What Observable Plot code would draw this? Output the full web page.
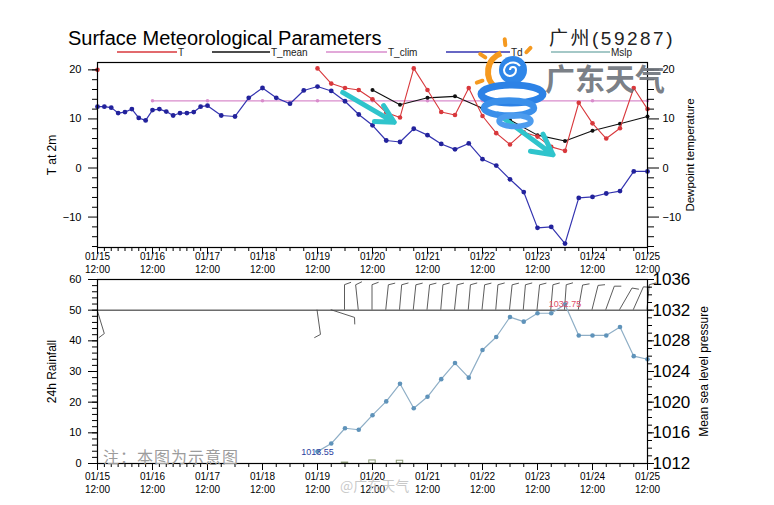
<!DOCTYPE html>
<html><head><meta charset="utf-8">
<script src="https://cdn.jsdelivr.net/npm/d3@7"></script>
<script src="https://cdn.jsdelivr.net/npm/@observablehq/plot@0.6"></script>
<style>
body{margin:0;background:#fff;}
#wrap{position:relative;width:774px;height:505px;overflow:hidden;background:#fff;}
#wrap svg{position:absolute;left:0;}
</style></head><body><div id="wrap"></div>
<script>
// ---------- data (hours after 01/15 12:00) ----------
const tdHours = [0,3,6,9,12,15,18,21,24,27,30,33,36,39,42,45,48,54,60,66,72,78,84,90,96,102,108,114,120,126,132,138,144,150,156,162,168,174,180,186,192,198,204,210,216,222,228,234,240];
const tdValues = [12.5,12.5,12.3,11.2,11.4,12.0,10.2,9.7,11.8,12.0,11.5,10.7,11.2,11.2,11.4,12.5,12.7,10.7,10.5,14.3,16.3,14.3,13.1,15.8,16.6,15.7,13.6,10.9,8.7,5.6,5.3,8.0,6.7,4.9,3.8,5.0,1.8,0.5,-2.3,-4.9,-12.2,-12.0,-15.4,-6.1,-5.9,-5.2,-4.7,-0.7,-0.7];
const tHours = [96,102,108,114,120,126,132,138,144,150,156,162,168,174,180,186,192,198,204,210,216,222,228,234,240];
const tValues = [20.3,17.2,16.3,15.9,14.0,11.3,10.3,20.3,15.9,11.4,10.8,16.3,10.6,7.1,4.8,7.3,6.4,4.3,3.5,13.3,9.1,6.0,8.1,16.3,12.0];
const tLoneHours = [0];
const tLoneValues = [20.0];
const tMeanHours = [120,132,144,156,168,180,192,204,216,228,240];
const tMeanValues = [15.9,12.9,14.3,14.6,12.2,9.8,6.7,5.5,7.6,9.0,10.5];
const tClimHours = [24,48,72,96,120,144,168,192,216,240];
const tClimValues = [13.7,13.7,13.7,13.7,13.7,13.7,13.7,13.7,13.7,13.7];
const mslpHours = [96,102,108,114,120,126,132,138,144,150,156,162,168,174,180,186,192,198,204,210,216,222,228,234,240];
const mslpValues = [1013.55,1014.6,1016.6,1016.4,1018.3,1020.1,1022.4,1019.2,1020.7,1023.0,1025.1,1023.2,1026.8,1028.5,1031.1,1030.5,1031.6,1031.6,1032.75,1028.7,1028.7,1028.7,1029.8,1026.0,1025.6];
const rainHours = [108,120,132];
const rainValues = [0.3,1.0,0.9];
const windHours = [0,96,102,108,114,120,126,132,138,144,150,156,162,168,174,180,186,192,198,204,210,216,222,228,234,240];
const windDir = [163,172,108,0,-6,0,6,5,6,6,5,6,5,6,5,6,5,6,5,4,10,14,20,30,24,5];
const barbBase = 50;
// annotation arrows (hours, temperature)
const arrowH1 = [107,174.7], arrowV1 = [15.4,11.0], arrowH2 = [129.5,198.8], arrowV2 = [9.3,2.7];
const xMajorTicks = [0,24,48,72,96,120,144,168,192,216,240];
const xMinorTicks = [0,3,6,9,12,15,18,21,24,27,30,33,36,39,42,45,48,54,60,66,72,78,84,90,96,102,108,114,120,126,132,138,144,150,156,162,168,174,180,186,192,198,204,210,216,222,228,234,240];
const tempTicks = [-10,0,10,20];
const tempMinor = [-16,-14,-12,-8,-6,-4,-2,2,4,6,8,12,14,16,18,20];
const rainTicks = [0,10,20,30,40,50,60];
const rainMinor = d3.range(0,61,2);
const presMinor = d3.range(0,61,2.5);

// ---------- tables ----------
const zip = (hs, vs) => hs.map((h,i)=>({h, v: vs[i]}));
const Td = zip(tdHours, tdValues), T = zip(tHours, tValues), TL = zip(tLoneHours, tLoneValues);
const Tmean = zip(tMeanHours, tMeanValues), Tclim = zip(tClimHours, tClimValues);
const P = zip(mslpHours, mslpValues), R = zip(rainHours, rainValues);
const arrows = arrowH1.map((h,i)=>({h1:h, v1:arrowV1[i], h2:arrowH2[i], v2:arrowV2[i]}));
const pMin = d3.least(P, d=>d.v), pMax = d3.greatest(P, d=>d.v);
const toRain = p => (p - 1012) * 2.5;

const C = {T:"#d8383c", Td:"#22229c", mean:"#111111", clim:"#d98ccc", mslp:"#8eaec6", mslpDot:"#5f93ba"};
const FONT = '"Liberation Sans", Arial, Helvetica, sans-serif';
const fmtDate = h => `01/${15 + h/24}\n12:00`;
const blank = () => "";

const wrap = document.getElementById("wrap");

// ---------- top panel ----------
const topChart = Plot.plot({
  width: 774, height: 230, marginTop: 7, marginBottom: 38, marginLeft: 97, marginRight: 127,
  style: {fontFamily: FONT, fontSize: "10px", background: "transparent", overflow: "visible", color: "#000"},
  x: {domain: [0, 240], label: null},
  y: {domain: [-16.2, 21.5], label: null},
  marks: [
    Plot.line(Tclim, {x: "h", y: "v", stroke: C.clim, strokeWidth: 1.2}),
    Plot.dot(Tclim, {x: "h", y: "v", fill: C.clim, r: 1.8}),
    Plot.line(Tmean, {x: "h", y: "v", stroke: C.mean, strokeWidth: 1.1}),
    Plot.dot(Tmean, {x: "h", y: "v", fill: C.mean, r: 2}),
    Plot.line(T, {x: "h", y: "v", stroke: C.T, strokeWidth: 1.1}),
    Plot.dot(T, {x: "h", y: "v", fill: C.T, r: 2.3}),
    Plot.dot(TL, {x: "h", y: "v", fill: C.T, r: 2.3}),
    Plot.line(Td, {x: "h", y: "v", stroke: "#3434b0", strokeWidth: 1.2}),
    Plot.dot(Td, {x: "h", y: "v", fill: C.Td, r: 2.4}),
    Plot.arrow(arrows, {x1: "h1", y1: "v1", x2: "h2", y2: "v2", stroke: "#2fc4cc", strokeWidth: 5, headLength: 13, headAngle: 55}),
    Plot.frame({stroke: "#000", strokeWidth: 1.2}),
    Plot.axisX({ticks: xMinorTicks, tickSize: 4, tickFormat: blank, label: null}),
    Plot.axisX({ticks: xMajorTicks, tickSize: 7, tickPadding: -3, tickFormat: fmtDate, lineHeight: 1.25, fontSize: 10, label: null}),
    Plot.axisY({ticks: tempMinor, tickSize: 5, tickFormat: blank, label: null}),
    Plot.axisY({ticks: tempTicks, tickSize: 9, tickPadding: 7, fontSize: 11, label: null}),
    Plot.axisY({anchor: "right", ticks: tempMinor, tickSize: 6, tickFormat: blank, label: null}),
    Plot.axisY({anchor: "right", ticks: tempTicks, tickSize: 11, tickPadding: 4, fontSize: 11, label: null}),
    Plot.text(["T at 2m"], {text: d => d, frameAnchor: "left", textAnchor: "middle", dx: -45, rotate: -90, fontSize: 12}),
    Plot.text(["Dewpoint temperature"], {text: d => d, frameAnchor: "right", textAnchor: "middle", dx: 43, rotate: -90, fontSize: 11.5})
  ]
});
topChart.style.top = "55px";
wrap.appendChild(topChart);

// ---------- wind barbs (custom mark using the plot's scales) ----------
function barbs(index, scales) {
  const g = d3.create("svg:g").attr("stroke", "#4a4a4a").attr("stroke-width", 0.9).attr("fill", "none");
  const y0 = scales.y(barbBase);
  windHours.forEach((h, i) => {
    const x0 = scales.x(h);
    const a = windDir[i] * Math.PI / 180;
    const L = 25, f = 7;
    const x1 = x0 + L * Math.sin(a), y1 = y0 - L * Math.cos(a);
    const b = (windDir[i] + 70) * Math.PI / 180;
    const x2 = x1 + f * Math.sin(b), y2 = y1 - f * Math.cos(b);
    g.append("path").attr("d", `M${x0},${y0}L${x1},${y1}L${x2},${y2}`);
  });
  return g.node();
}

// ---------- bottom panel ----------
const bottomChart = Plot.plot({
  width: 774, height: 235, marginTop: 9, marginBottom: 42, marginLeft: 97, marginRight: 127,
  style: {fontFamily: FONT, fontSize: "10px", background: "transparent", overflow: "visible", color: "#000"},
  x: {domain: [0, 240], label: null},
  y: {domain: [0, 60], label: null},
  marks: [
    Plot.ruleY([barbBase], {stroke: "#222", strokeWidth: 1}),
    barbs,
    Plot.rectY(R, {x1: d => d.h - 1.4, x2: d => d.h + 1.4, y: "v", fill: "none", stroke: "#8c9a78", strokeWidth: 1}),
    Plot.line(P, {x: "h", y: d => toRain(d.v), stroke: C.mslp, strokeWidth: 1.2}),
    Plot.dot(P, {x: "h", y: d => toRain(d.v), fill: C.mslpDot, r: 2.3}),
    Plot.text([pMin], {x: "h", y: d => toRain(d.v), text: d => d.v.toFixed(2), fill: "#2b3fa0", fontSize: 9}),
    Plot.text([pMax], {x: "h", y: d => toRain(d.v), text: d => d.v.toFixed(2), fill: "#e0506a", fontSize: 9}),
    Plot.frame({stroke: "#000", strokeWidth: 1.2}),
    Plot.axisX({ticks: xMinorTicks, tickSize: 4, tickFormat: blank, label: null}),
    Plot.axisX({ticks: xMajorTicks, tickSize: 7, tickPadding: 1, tickFormat: fmtDate, lineHeight: 1.25, fontSize: 10, label: null}),
    Plot.axisY({ticks: rainMinor, tickSize: 5, tickFormat: blank, label: null}),
    Plot.axisY({ticks: rainTicks, tickSize: 9, tickPadding: 7, fontSize: 11, label: null}),
    Plot.axisY({anchor: "right", ticks: presMinor, tickSize: 4, tickFormat: blank, label: null}),
    Plot.axisY({anchor: "right", ticks: rainTicks, tickSize: 6, tickPadding: -1, tickFormat: d => String(Math.round(1012 + d * 0.4)), fontSize: 17, label: null}),
    Plot.text(["24h Rainfall"], {text: d => d, frameAnchor: "left", textAnchor: "middle", dx: -45, rotate: -90, fontSize: 12}),
    Plot.text(["Mean sea level pressure"], {text: d => d, frameAnchor: "right", textAnchor: "middle", dx: 57, rotate: -90, fontSize: 12})
  ]
});
bottomChart.style.top = "270px";
wrap.appendChild(bottomChart);

// ---------- overlay: title, legend, watermark ----------
const ov = d3.select(wrap).append("svg").attr("width", 774).attr("height", 505)
  .style("top", "0px").style("pointer-events", "none").style("font-family", FONT);
ov.append("text").attr("x", 68).attr("y", 45).attr("font-size", 20).attr("fill", "#000").text("Surface Meteorological Parameters");
ov.append("text").attr("x", 549).attr("y", 45).attr("font-size", 19).attr("letter-spacing", 2.5)
  .attr("font-family", '"Liberation Sans", "Noto Sans CJK SC", sans-serif').attr("fill", "#222").text("广州(59287)");
const legend = [
  {x1: 117, x2: 177, label: "T", color: C.T},
  {x1: 212, x2: 270, label: "T_mean", color: C.mean},
  {x1: 326, x2: 387, label: "T_clim", color: C.clim},
  {x1: 446, x2: 510, label: "Td", color: "#3434b0"},
  {x1: 551, x2: 610, label: "Mslp", color: "#86b6b4"}
];
legend.forEach(d => {
  ov.append("line").attr("x1", d.x1).attr("x2", d.x2).attr("y1", 52).attr("y2", 52).attr("stroke", d.color).attr("stroke-width", 1.3);
  ov.append("text").attr("x", d.x2 + 1).attr("y", 56).attr("font-size", 10).attr("fill", "#222").text(d.label);
});

// logo
const lg = ov.append("g");
lg.append("path").attr("transform", "translate(508,72)")
  .attr("d", d3.arc()({innerRadius: 17, outerRadius: 23, startAngle: -2.5, endAngle: -0.35})).attr("fill", "#f5991f");
[-1.9, -1.0, -0.1, 0.75].forEach(a => {
  lg.append("line").attr("x1", 508 + 27 * Math.sin(a)).attr("y1", 72 - 27 * Math.cos(a))
    .attr("x2", 508 + 33 * Math.sin(a)).attr("y2", 72 - 33 * Math.cos(a))
    .attr("stroke", "#f5991f").attr("stroke-width", 4).attr("stroke-linecap", "round");
});
lg.append("circle").attr("cx", 513).attr("cy", 70).attr("r", 14).attr("fill", "#2f86e8");
lg.append("path").attr("d", "M513,70 m-3,0 a3,3 0 1,1 6,0 a6,6 0 1,1 -12,0 a9,9 0 0,1 16,-4")
  .attr("fill", "none").attr("stroke", "#fff").attr("stroke-width", 2);
[[512, 94, 31, 9, 7, "#2c82e6"], [509, 108, 25, 7.5, 6.5, "#3a8fea"], [515, 121, 16, 5.5, 5.5, "#4d9cee"]].forEach(e => {
  lg.append("ellipse").attr("cx", e[0]).attr("cy", e[1]).attr("rx", e[2]).attr("ry", e[3])
    .attr("fill", "none").attr("stroke", e[5]).attr("stroke-width", e[4]);
});
ov.append("text").attr("x", 545).attr("y", 90).attr("font-size", 30).attr("font-weight", 700)
  .attr("font-family", '"Noto Sans CJK SC", sans-serif').attr("fill", "#6e737b").attr("fill-opacity", 0.92).text("广东天气");
ov.append("text").attr("x", 103).attr("y", 463).attr("font-size", 16).attr("letter-spacing", 1)
  .attr("font-family", '"Noto Sans CJK SC", sans-serif').attr("fill", "#9c9c9c").text("注：本图为示意图");
ov.append("text").attr("x", 340).attr("y", 491).attr("font-size", 14)
  .attr("font-family", '"Noto Sans CJK SC", sans-serif').attr("fill", "#b8b8b8").attr("fill-opacity", 0.75).text("@广东天气");
</script>
</body></html>
